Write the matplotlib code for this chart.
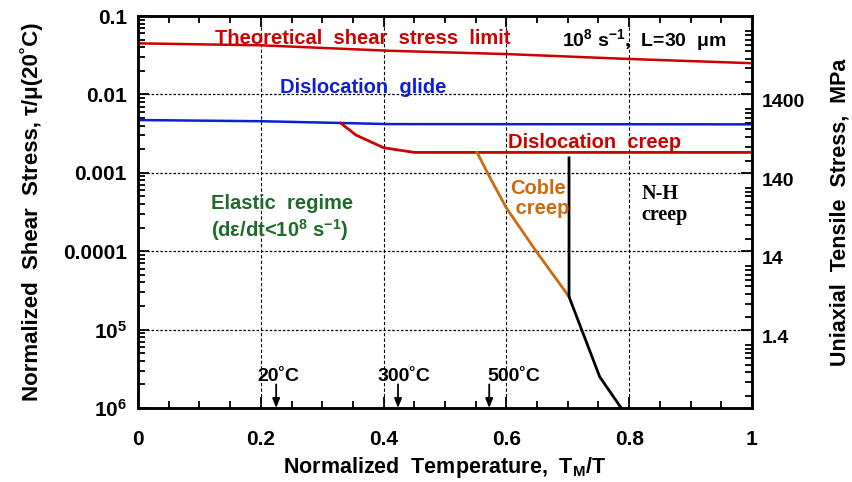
import numpy as np
import matplotlib.pyplot as plt
from matplotlib.ticker import FixedLocator, LogLocator, NullFormatter, MultipleLocator

plt.rcParams['font.family'] = ['Liberation Sans', 'DejaVu Sans']
plt.rcParams['mathtext.fontset'] = 'custom'
plt.rcParams['mathtext.rm'] = 'Liberation Sans:bold'
plt.rcParams['mathtext.it'] = 'Liberation Sans:bold'
plt.rcParams['mathtext.bf'] = 'Liberation Sans:bold'

# data (x = T/T_M, y = tau/mu)
theo_x = [0.0, 0.2, 0.41, 0.6, 0.8, 1.0]
theo_y = [0.0448, 0.0423, 0.0360, 0.0327, 0.0283, 0.0250]

glide_x = [0.0, 0.2, 0.33, 0.41, 1.0]
glide_y = [0.00471, 0.00455, 0.00432, 0.00418, 0.00415]

creep_x = [0.33, 0.355, 0.40, 0.45, 1.0]
creep_y = [0.00431, 0.00303, 0.00209, 0.00182, 0.00182]

coble_x = [0.552, 0.575, 0.60, 0.649, 0.702]
coble_y = [0.00182, 0.00082, 0.000356, 0.0000986, 0.0000263]

nh_x = [0.702, 0.702, 0.752, 0.787]
nh_y = [0.00155, 0.0000263, 0.0000025, 0.000001]

temp_labels = ['20˚C', '300˚C', '500˚C']
temp_x = [0.225, 0.4235, 0.572]
temp_label_x = [0.228, 0.433, 0.612]

y_ticks = [1e-6, 1e-5, 1e-4, 1e-3, 1e-2, 1e-1]
y_ticklabels = ['10$^6$', '10$^5$', '0.0001', '0.001', '0.01', '0.1']
x_ticks = [0, 0.2, 0.4, 0.6, 0.8, 1.0]
x_ticklabels = ['0', '0.2', '0.4', '0.6', '0.8', '1']
r_ticks = [1.4, 14, 140, 1400]
r_ticklabels = ['1.4', '14', '140', '1400']
mpa_factor = 140000.0

red = '#cc0000'
blue = '#0b1fd6'
orange = '#cc6a10'
green = '#1d6b2a'

fig = plt.figure(figsize=(8.52, 4.82), dpi=100)
ax = fig.add_axes([0.162, 0.1535, 0.7206, 0.8133])

ax.set_yscale('log')
ax.set_xlim(0, 1)
ax.set_ylim(1e-6, 0.1)

# grid
for gx in [0.2, 0.4, 0.6, 0.8]:
    ax.axvline(gx, color='black', lw=0.8, ls=(0, (3, 2)), zorder=1)
for gy in [1e-5, 1e-4, 1e-3, 1e-2]:
    ax.axhline(gy, color='black', lw=0.9, ls=(0, (2, 1.5)), zorder=1)

ax.plot(theo_x, theo_y, color=red, lw=1.8, zorder=3)
ax.plot(glide_x, glide_y, color=blue, lw=1.8, zorder=3)
ax.plot(creep_x, creep_y, color=red, lw=2.0, zorder=3)
ax.plot(coble_x, coble_y, color=orange, lw=2.0, zorder=3)
ax.plot(nh_x, nh_y, color='black', lw=2.0, zorder=4)

# ticks
ax.set_xticks(x_ticks)
ax.set_xticklabels(x_ticklabels)
ax.xaxis.set_minor_locator(MultipleLocator(0.05))
ax.set_yticks(y_ticks)
ax.set_yticklabels(y_ticklabels)
ax.yaxis.set_minor_locator(LogLocator(base=10, subs=np.arange(2, 10)))
ax.yaxis.set_minor_formatter(NullFormatter())
ax.tick_params(which='both', direction='in', top=True, right=False, width=1.3)
ax.tick_params(which='major', length=8, labelsize=15)
ax.tick_params(which='minor', length=5)
ax.tick_params(axis='x', which='major', pad=16)
ax.tick_params(axis='y', which='major', pad=8)
for lab in ax.get_xticklabels() + ax.get_yticklabels():
    lab.set_fontweight('bold')
for s in ax.spines.values():
    s.set_linewidth(1.8)

# right axis in MPa
ax2 = ax.twinx()
ax2.set_yscale('log')
ax2.set_ylim(1e-6 * mpa_factor, 0.1 * mpa_factor)
ax2.yaxis.set_major_locator(FixedLocator(r_ticks))
ax2.set_yticklabels(r_ticklabels)
ax2.yaxis.set_minor_locator(LogLocator(base=10, subs=np.arange(2, 10)))
ax2.yaxis.set_minor_formatter(NullFormatter())
ax2.tick_params(which='both', direction='in', width=1.3)
ax2.tick_params(which='major', length=8, labelsize=14, pad=7)
ax2.tick_params(which='minor', length=5)
for lab in ax2.get_yticklabels():
    lab.set_fontweight('bold')
    lab.set_verticalalignment('top')
for s in ax2.spines.values():
    s.set_linewidth(1.8)

ax.set_xlabel('Normalized  Temperature,  T$_M$/T', fontsize=15.5, fontweight='bold', labelpad=4)
ax.set_ylabel('Normalized  Shear  Stress, τ/μ(20˚C)', fontsize=16, fontweight='bold', labelpad=14)
ax2.set_ylabel('Uniaxial  Tensile  Stress,  MPa', fontsize=15.5, fontweight='bold', labelpad=18)

# annotations
ax.text(0.125, 0.051, 'Theoretical  shear  stress  limit', color=red, fontsize=14.5,
        fontweight='bold', va='center', ha='left', zorder=5)
ax.text(0.69, 0.049, '10$^8$ s$^{-1}$,  L=30  μm', color='black', fontsize=14,
        fontweight='bold', va='center', ha='left', zorder=5)
ax.text(0.232, 0.0124, 'Dislocation  glide', color=blue, fontsize=14.5,
        fontweight='bold', va='center', ha='left', zorder=5)
ax.text(0.602, 0.0024, 'Dislocation  creep', color=red, fontsize=14.5,
        fontweight='bold', va='center', ha='left', zorder=5)
ax.text(0.606, 0.00047, 'Coble\n creep', color=orange, fontsize=14.5, fontweight='bold',
        va='center', ha='left', linespacing=1.05, zorder=5)
ax.text(0.82, 0.00039, 'N-H\ncreep', color='black', fontsize=14.5, family='Liberation Serif',
        fontweight='bold', va='center', ha='left', linespacing=1.05, zorder=5)
ax.text(0.119, 0.00041, 'Elastic  regime', color=green, fontsize=14.5,
        fontweight='bold', va='center', ha='left', zorder=5)
ax.text(0.119, 0.000185, '(dε/dt<10$^8$ s$^{-1}$)', color=green, fontsize=14.5,
        fontweight='bold', va='center', ha='left', zorder=5)

for lab, tx, lx in zip(temp_labels, temp_x, temp_label_x):
    ax.annotate('', xy=(tx, 1e-6), xytext=(tx, 2.0e-6),
                arrowprops=dict(arrowstyle='-|>,head_length=0.55,head_width=0.22',
                                color='black', lw=1.3, shrinkA=0, shrinkB=0), zorder=5)
    ax.text(lx, 1.95e-6, lab, fontsize=14, fontweight='bold', ha='center', va='bottom', zorder=5)

fig.savefig('out.png', dpi=100)
